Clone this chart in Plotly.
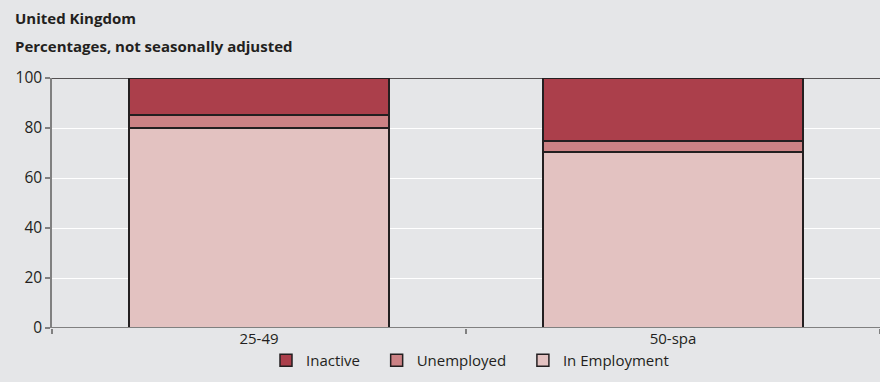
import plotly.graph_objects as go

# Labour market status by age group, UK (percent of population)
age_groups = ["25-49", "50-spa"]
in_employment = [80.1, 70.5]
unemployed = [5.1, 4.3]
inactive = [14.8, 25.2]
y_ticks = [0, 20, 40, 60, 80, 100]

FONT = "Open Sans, sans-serif"
EDGE = "#231f20"
BG = "#e5e6e8"
PAD = "\u00a0" * 3  # extra spacing between legend entries

fig = go.Figure()
series = [
    ("In Employment", in_employment, "#e3c2c1"),
    ("Unemployed" + PAD, unemployed, "#cc8285"),
    ("Inactive" + PAD, inactive, "#ab3f4b"),
]
for name, vals, col in series:
    fig.add_trace(go.Bar(
        x=age_groups, y=vals, name=name,
        marker=dict(color=col, line=dict(color=EDGE, width=1.5)),
        width=0.627,
    ))

W, H = 880, 382
ML, MR, MT, MB = 52, 0, 78, 54
pw = W - ML - MR

fig.update_layout(
    width=W, height=H,
    margin=dict(l=ML, r=MR, t=MT, b=MB),
    barmode="stack",
    paper_bgcolor=BG, plot_bgcolor=BG,
    font=dict(family=FONT, size=15, color=EDGE),
    showlegend=True,
    legend=dict(
        orientation="h", traceorder="reversed",
        x=0.5 + 4 / pw, xanchor="center", y=-0.13, yanchor="middle",
        font=dict(size=15, color=EDGE), bgcolor="rgba(0,0,0,0)",
        itemwidth=30,
    ),
    xaxis=dict(
        range=[-0.5, 1.5], tickson="boundaries",
        ticks="outside", ticklen=5, tickcolor="#808080", tickwidth=1.5,
        showgrid=False, showline=False, zeroline=False,
        tickfont=dict(size=15, color=EDGE),
    ),
    yaxis=dict(
        range=[0, 100], tickvals=y_ticks,
        ticks="outside", ticklen=5, tickcolor="#808080", tickwidth=1.5,
        showline=True, linecolor="#808080", linewidth=1.5,
        showgrid=True, gridcolor="#ffffff", gridwidth=1,
        zeroline=False, tickfont=dict(size=15.5, color=EDGE),
    ),
    annotations=[
        dict(text="<b>United Kingdom</b>", xref="paper", yref="paper",
             x=(13 - ML) / pw, y=1 + (MT - 18) / (H - MT - MB),
             xanchor="left", yanchor="middle", showarrow=False,
             font=dict(size=15, color=EDGE)),
        dict(text="<b>Percentages, not seasonally adjusted</b>", xref="paper", yref="paper",
             x=(13 - ML) / pw, y=1 + (MT - 46) / (H - MT - MB),
             xanchor="left", yanchor="middle", showarrow=False,
             font=dict(size=15, color=EDGE)),
    ],
    shapes=[
        dict(type="line", xref="paper", yref="y", x0=0, x1=1, y0=100, y1=100,
             line=dict(color=EDGE, width=1.5), layer="below"),
        dict(type="line", xref="paper", yref="y", x0=0, x1=1, y0=0, y1=0,
             line=dict(color="#808080", width=2), layer="above"),
    ],
)

fig.write_html("out.html")
